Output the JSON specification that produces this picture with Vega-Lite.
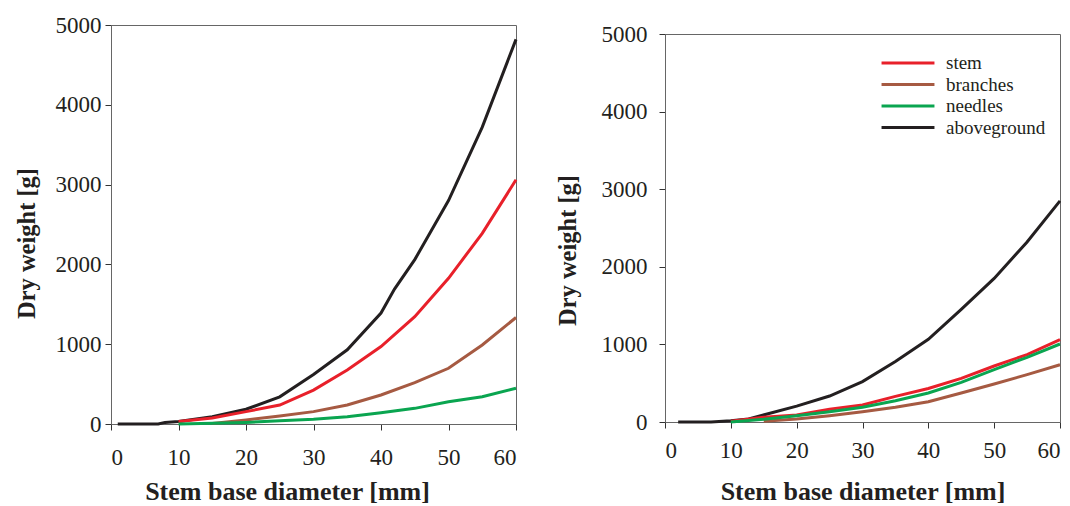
{
  "$schema": "https://vega.github.io/schema/vega-lite/v6.json",
  "padding": {"left": 13, "top": 13, "right": 0, "bottom": 0},
  "background": "white",
  "spacing": 31,
  "config": {
    "font": "Liberation Serif",
    "view": {"stroke": "#666666", "strokeWidth": 1}
  },
  "datasets": {
    "left": [
      {"d": 1, "part": "aboveground", "w": 0},
      {"d": 4, "part": "aboveground", "w": 0},
      {"d": 7, "part": "aboveground", "w": 0},
      {"d": 8, "part": "aboveground", "w": 20},
      {"d": 10, "part": "aboveground", "w": 30},
      {"d": 15, "part": "aboveground", "w": 90},
      {"d": 20, "part": "aboveground", "w": 185},
      {"d": 25, "part": "aboveground", "w": 340},
      {"d": 30, "part": "aboveground", "w": 620},
      {"d": 35, "part": "aboveground", "w": 930},
      {"d": 40, "part": "aboveground", "w": 1390},
      {"d": 42, "part": "aboveground", "w": 1690},
      {"d": 45, "part": "aboveground", "w": 2060},
      {"d": 50, "part": "aboveground", "w": 2800},
      {"d": 55, "part": "aboveground", "w": 3720},
      {"d": 60, "part": "aboveground", "w": 4820},
      {"d": 10, "part": "stem", "w": 30},
      {"d": 15, "part": "stem", "w": 75},
      {"d": 20, "part": "stem", "w": 155},
      {"d": 25, "part": "stem", "w": 238},
      {"d": 30, "part": "stem", "w": 425},
      {"d": 35, "part": "stem", "w": 677},
      {"d": 40, "part": "stem", "w": 970},
      {"d": 45, "part": "stem", "w": 1345},
      {"d": 50, "part": "stem", "w": 1825},
      {"d": 55, "part": "stem", "w": 2390},
      {"d": 60, "part": "stem", "w": 3060},
      {"d": 15, "part": "branches", "w": 5},
      {"d": 20, "part": "branches", "w": 50},
      {"d": 25, "part": "branches", "w": 100},
      {"d": 30, "part": "branches", "w": 155},
      {"d": 35, "part": "branches", "w": 238},
      {"d": 40, "part": "branches", "w": 363},
      {"d": 45, "part": "branches", "w": 518},
      {"d": 50, "part": "branches", "w": 698},
      {"d": 55, "part": "branches", "w": 990},
      {"d": 60, "part": "branches", "w": 1335},
      {"d": 10, "part": "needles", "w": 0},
      {"d": 15, "part": "needles", "w": 8},
      {"d": 20, "part": "needles", "w": 20},
      {"d": 25, "part": "needles", "w": 40},
      {"d": 30, "part": "needles", "w": 60},
      {"d": 35, "part": "needles", "w": 92},
      {"d": 40, "part": "needles", "w": 142},
      {"d": 45, "part": "needles", "w": 196},
      {"d": 50, "part": "needles", "w": 280},
      {"d": 55, "part": "needles", "w": 342},
      {"d": 60, "part": "needles", "w": 447}
    ],
    "right": [
      {"d": 2, "part": "aboveground", "w": 0},
      {"d": 7, "part": "aboveground", "w": 0},
      {"d": 10, "part": "aboveground", "w": 17},
      {"d": 12.7, "part": "aboveground", "w": 39},
      {"d": 20, "part": "aboveground", "w": 205},
      {"d": 25, "part": "aboveground", "w": 335},
      {"d": 30, "part": "aboveground", "w": 520},
      {"d": 35, "part": "aboveground", "w": 780},
      {"d": 40, "part": "aboveground", "w": 1065},
      {"d": 45, "part": "aboveground", "w": 1450},
      {"d": 50, "part": "aboveground", "w": 1850},
      {"d": 55, "part": "aboveground", "w": 2320},
      {"d": 60, "part": "aboveground", "w": 2850},
      {"d": 10, "part": "stem", "w": 10},
      {"d": 15, "part": "stem", "w": 60},
      {"d": 20, "part": "stem", "w": 90},
      {"d": 25, "part": "stem", "w": 165},
      {"d": 30, "part": "stem", "w": 220},
      {"d": 35, "part": "stem", "w": 330},
      {"d": 40, "part": "stem", "w": 432},
      {"d": 45, "part": "stem", "w": 563},
      {"d": 50, "part": "stem", "w": 722},
      {"d": 55, "part": "stem", "w": 868},
      {"d": 60, "part": "stem", "w": 1061},
      {"d": 15, "part": "branches", "w": 10},
      {"d": 20, "part": "branches", "w": 39},
      {"d": 25, "part": "branches", "w": 82},
      {"d": 30, "part": "branches", "w": 133},
      {"d": 35, "part": "branches", "w": 190},
      {"d": 40, "part": "branches", "w": 262},
      {"d": 45, "part": "branches", "w": 374},
      {"d": 50, "part": "branches", "w": 490},
      {"d": 55, "part": "branches", "w": 610},
      {"d": 60, "part": "branches", "w": 738},
      {"d": 10, "part": "needles", "w": 0},
      {"d": 15, "part": "needles", "w": 35},
      {"d": 20, "part": "needles", "w": 82},
      {"d": 25, "part": "needles", "w": 133},
      {"d": 30, "part": "needles", "w": 189},
      {"d": 35, "part": "needles", "w": 275},
      {"d": 40, "part": "needles", "w": 374},
      {"d": 45, "part": "needles", "w": 511},
      {"d": 50, "part": "needles", "w": 674},
      {"d": 55, "part": "needles", "w": 834},
      {"d": 60, "part": "needles", "w": 1005}
    ]
  },
  "resolve": {"legend": {"color": "independent"}},
  "hconcat": [
    {
      "width": 405,
      "height": 399,
      "data": {"name": "left"},
      "mark": {"type": "line", "strokeWidth": 3},
      "encoding": {
        "x": {"field": "d", "type": "quantitative", "title": "Stem base diameter [mm]",
              "scale": {"domain": [0, 60], "nice": false},
              "axis": {"values": [0, 10, 20, 30, 40, 50, 60], "format": "d", "grid": false,
                       "domainColor": "#666666", "tickColor": "#333333", "tickSize": 6,
                       "labelFont": "Liberation Serif", "labelFontSize": 23, "labelColor": "#231f20", "labelPadding": 16,
                       "titleFont": "Liberation Serif", "titleFontSize": 26, "titleFontWeight": "bold",
                       "titleColor": "#231f20", "titlePadding": 9, "titleX": 176, "titleAlign": "center"}},
        "y": {"field": "w", "type": "quantitative", "title": "Dry weight [g]",
              "scale": {"domain": [0, 5000], "nice": false},
              "axis": {"values": [0, 1000, 2000, 3000, 4000, 5000], "format": "d", "grid": false,
                       "domainColor": "#666666", "tickColor": "#333333", "tickSize": 6,
                       "labelFont": "Liberation Serif", "labelFontSize": 23, "labelColor": "#231f20", "labelPadding": 4,
                       "titleFont": "Liberation Serif", "titleFontSize": 24.5, "titleFontWeight": "bold",
                       "titleColor": "#231f20", "titlePadding": 16, "titleY": 218, "titleAlign": "center"}},
        "color": {"field": "part", "type": "nominal",
                  "scale": {"domain": ["stem", "branches", "needles", "aboveground"],
                            "range": ["#e8202a", "#a65a42", "#0aa550", "#231f20"]},
                  "legend": null},
        "order": {"field": "d", "type": "quantitative"}
      }
    },
    {
      "spacing": -4,
      "vconcat": [
        {
          "width": 395,
          "height": 1,
          "view": {"stroke": null},
          "data": {"values": []},
          "mark": "rule",
          "encoding": {}
        },
        {
          "width": 395,
          "height": 388,
          "data": {"name": "right"},
          "mark": {"type": "line", "strokeWidth": 3},
          "encoding": {
            "x": {"field": "d", "type": "quantitative", "title": "Stem base diameter [mm]",
                  "scale": {"domain": [0, 60], "nice": false},
                  "axis": {"values": [0, 10, 20, 30, 40, 50, 60], "format": "d", "grid": false,
                           "domainColor": "#666666", "tickColor": "#333333", "tickSize": 6,
                           "labelFont": "Liberation Serif", "labelFontSize": 23, "labelColor": "#231f20", "labelPadding": 11,
                           "titleFont": "Liberation Serif", "titleFontSize": 26, "titleFontWeight": "bold",
                           "titleColor": "#231f20", "titlePadding": 16}},
            "y": {"field": "w", "type": "quantitative", "title": "Dry weight [g]",
                  "scale": {"domain": [0, 5000], "nice": false},
                  "axis": {"values": [0, 1000, 2000, 3000, 4000, 5000], "format": "d", "grid": false,
                           "domainColor": "#666666", "tickColor": "#333333", "tickSize": 6,
                           "labelFont": "Liberation Serif", "labelFontSize": 23, "labelColor": "#231f20", "labelPadding": 12,
                           "titleFont": "Liberation Serif", "titleFontSize": 24.5, "titleFontWeight": "bold",
                           "titleColor": "#231f20", "titlePadding": 21, "titleY": 216, "titleAlign": "center"}},
            "color": {"field": "part", "type": "nominal",
                      "scale": {"domain": ["stem", "branches", "needles", "aboveground"],
                                "range": ["#e8202a", "#a65a42", "#0aa550", "#231f20"]},
                      "legend": {"title": null, "orient": "none", "legendX": 215, "legendY": 29,
                                 "symbolType": "stroke", "symbolSize": 2800, "symbolStrokeWidth": 3,
                                 "clipHeight": 18, "rowPadding": 2.5,
                                 "labelFont": "Liberation Serif", "labelFontSize": 19,
                                 "labelColor": "#231f20", "labelOffset": 10}},
            "order": {"field": "d", "type": "quantitative"}
          }
        }
      ]
    }
  ]
}
